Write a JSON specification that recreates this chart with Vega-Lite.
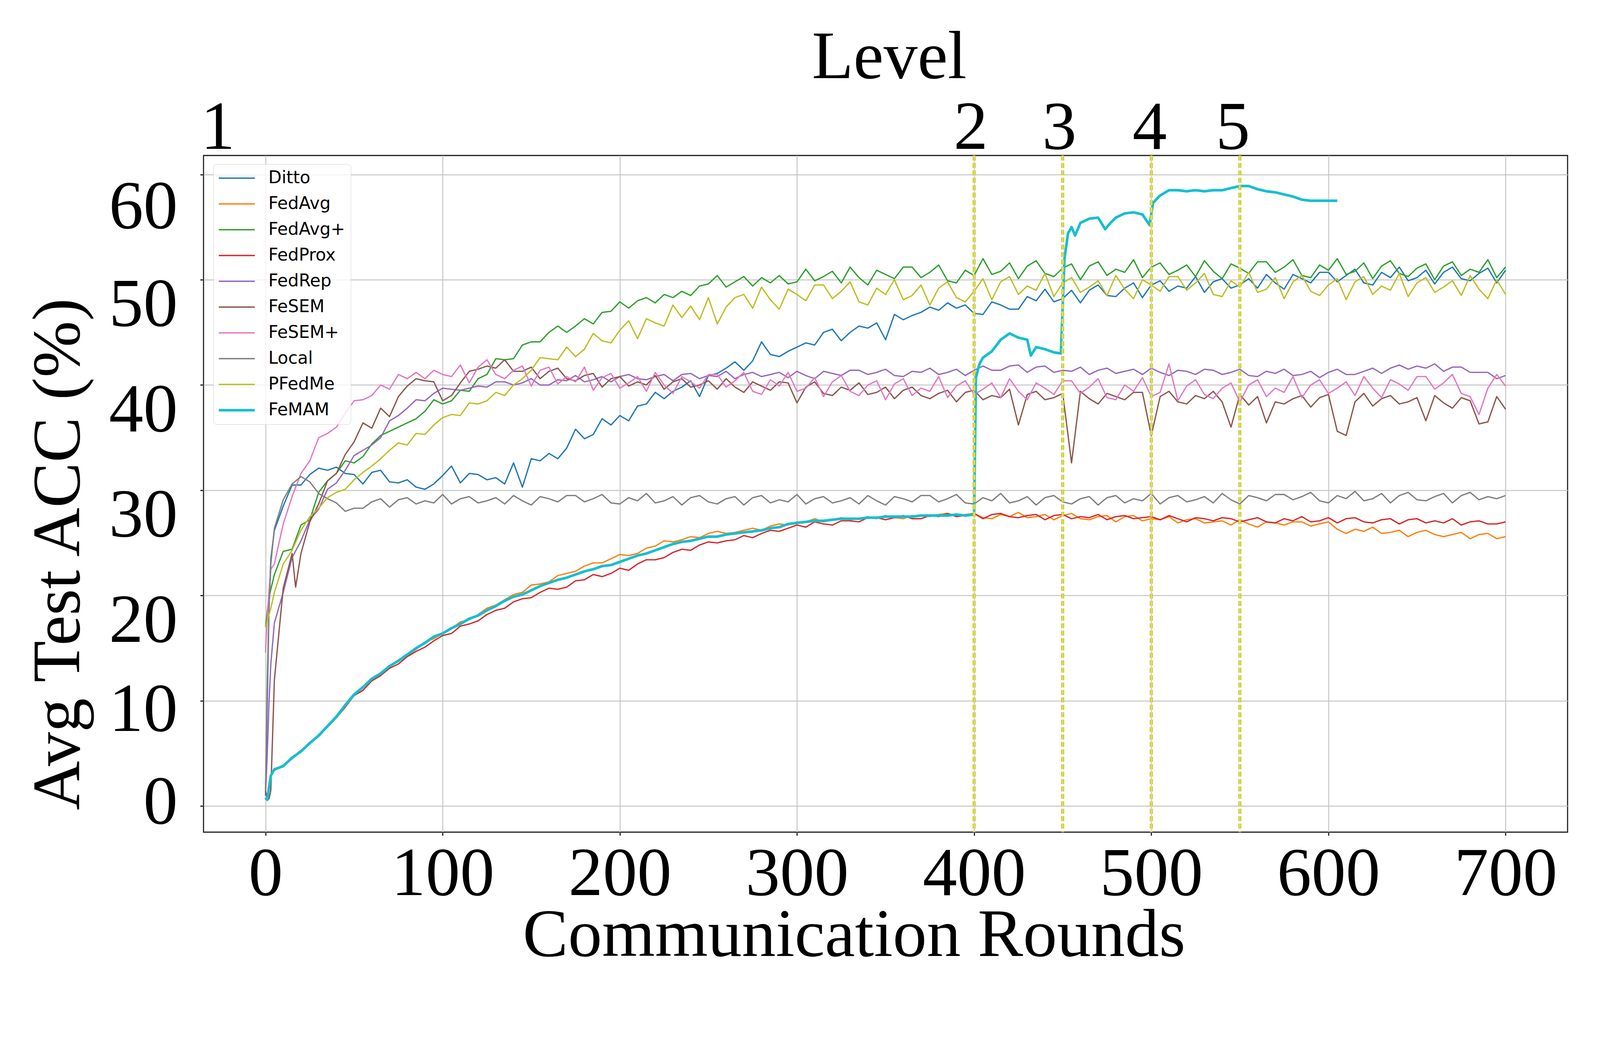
{
  "$schema": "https://vega.github.io/schema/vega-lite/v6.json",
  "width": 3492,
  "height": 1732,
  "autosize": {"type": "none"},
  "padding": {"left": 521, "top": 398, "right": 83, "bottom": 439},
  "background": "#ffffff",
  "config": {
    "view": {"stroke": "#1a1a1a", "strokeWidth": 2.8},
    "axis": {
      "labelFont": "Liberation Serif",
      "titleFont": "Liberation Serif",
      "labelColor": "#000000",
      "titleColor": "#000000",
      "titleFontWeight": "normal",
      "labelLimit": 0,
      "titleLimit": 0,
      "gridColor": "#c4c4c4",
      "gridWidth": 2.4,
      "tickColor": "#1a1a1a",
      "tickWidth": 2.8,
      "tickSize": 8.6,
      "domain": false,
      "labelFlush": false,
      "labelOverlap": false
    }
  },
  "resolve": {"axis": {"x": "independent"}},
  "layer": [
    {
      "data": {
        "values": [
          {"r":0,"a":1.0,"b":0.8,"c":17.0,"d":0.8,"e":1.0,"f":1.5,"g":14.6,"h":1.4,"i":17.0,"j":0.8},
          {"r":1,"a":10.0,"b":0.6,"c":18.5,"d":0.6,"e":5.0,"f":0.6,"g":18.0,"h":12.0,"i":17.6,"j":0.6},
          {"r":2,"a":19.0,"b":1.8,"c":19.8,"d":1.8,"e":10.0,"f":0.7,"g":20.5,"h":19.0,"i":18.2,"j":1.8},
          {"r":3,"a":23.5,"b":2.9,"c":20.6,"d":2.9,"e":13.5,"f":1.5,"g":22.5,"h":23.0,"i":18.8,"j":2.9},
          {"r":5,"a":26.2,"b":3.5,"c":22.0,"d":3.4,"e":17.4,"f":12.0,"g":23.0,"h":26.4,"i":20.3,"j":3.5},
          {"r":10,"a":28.5,"b":3.9,"c":24.2,"d":3.8,"e":20.3,"f":20.7,"g":26.8,"h":29.1,"i":23.0,"j":3.8},
          {"r":15,"a":30.5,"b":4.6,"c":24.4,"d":4.5,"e":23.6,"f":24.0,"g":29.4,"h":30.6,"i":24.3,"j":4.6},
          {"r":17,"f":20.8},
          {"r":20,"a":30.5,"b":5.3,"c":26.7,"d":5.2,"e":25.2,"f":24.0,"g":31.6,"h":31.3,"i":26.2,"j":5.2},
          {"r":25,"a":31.5,"b":6.0,"c":27.2,"d":5.9,"e":27.2,"f":27.0,"g":32.8,"h":30.8,"i":27.5,"j":6.0},
          {"r":30,"a":32.1,"b":6.8,"c":29.8,"d":6.7,"e":28.2,"f":28.7,"g":35.0,"h":29.7,"i":28.3,"j":6.7},
          {"r":35,"a":31.9,"b":7.6,"c":30.9,"d":7.5,"e":30.1,"f":30.9,"g":35.4,"h":29.2,"i":29.3,"j":7.6},
          {"r":40,"a":32.2,"b":8.5,"c":31.6,"d":8.4,"e":30.7,"f":31.6,"g":36.0,"h":28.8,"i":29.8,"j":8.5},
          {"r":45,"a":31.6,"b":9.6,"c":32.8,"d":9.4,"e":31.9,"f":33.4,"g":37.3,"h":28.0,"i":30.1,"j":9.6},
          {"r":50,"a":31.5,"b":10.5,"c":32.6,"d":10.5,"e":33.3,"f":34.6,"g":38.5,"h":28.3,"i":31.0,"j":10.6},
          {"r":55,"a":30.6,"b":11.3,"c":33.2,"d":11.0,"e":33.8,"f":36.4,"g":38.6,"h":28.3,"i":31.7,"j":11.3},
          {"r":60,"a":31.7,"b":12.0,"c":34.4,"d":11.9,"e":34.3,"f":35.9,"g":39.0,"h":28.9,"i":32.3,"j":12.1},
          {"r":65,"a":31.9,"b":12.5,"c":35.2,"d":12.4,"e":35.0,"f":37.8,"g":40.0,"h":29.2,"i":33.0,"j":12.6},
          {"r":70,"a":30.8,"b":13.2,"c":35.6,"d":13.1,"e":36.6,"f":37.0,"g":39.6,"h":28.4,"i":33.8,"j":13.3},
          {"r":75,"a":30.7,"b":13.9,"c":36.0,"d":13.5,"e":37.1,"f":38.9,"g":41.0,"h":29.1,"i":34.5,"j":13.8},
          {"r":80,"a":31.0,"b":14.3,"c":36.4,"d":14.2,"e":37.8,"f":39.9,"g":40.6,"h":29.3,"i":34.3,"j":14.4},
          {"r":85,"a":30.3,"b":14.9,"c":36.8,"d":14.7,"e":38.6,"f":40.6,"g":41.2,"h":28.7,"i":35.4,"j":15.0},
          {"r":90,"a":30.1,"b":15.6,"c":37.5,"d":15.1,"e":38.5,"f":40.4,"g":40.6,"h":29.0,"i":35.3,"j":15.5},
          {"r":95,"a":30.6,"b":15.9,"c":38.6,"d":15.7,"e":39.2,"f":40.3,"g":41.4,"h":28.8,"i":36.2,"j":16.1},
          {"r":100,"a":31.4,"b":16.4,"c":38.2,"d":16.2,"e":39.7,"f":38.5,"g":41.0,"h":29.6,"i":36.9,"j":16.4},
          {"r":105,"a":32.3,"b":16.9,"c":38.5,"d":16.4,"e":39.6,"f":39.0,"g":40.8,"h":28.7,"i":37.2,"j":16.9},
          {"r":110,"a":30.7,"b":17.5,"c":39.5,"d":17.1,"e":39.5,"f":40.2,"g":41.9,"h":29.2,"i":37.1,"j":17.3},
          {"r":115,"a":31.6,"b":17.7,"c":39.4,"d":17.3,"e":39.7,"f":41.3,"g":40.2,"h":29.4,"i":38.3,"j":17.8},
          {"r":120,"a":31.5,"b":18.2,"c":40.6,"d":17.6,"e":39.9,"f":41.5,"g":41.7,"h":28.8,"i":38.2,"j":18.1},
          {"r":125,"a":31.0,"b":18.8,"c":41.0,"d":18.2,"e":39.8,"f":41.8,"g":42.4,"h":29.0,"i":38.5,"j":18.6},
          {"r":130,"a":31.2,"b":19.1,"c":42.5,"d":18.6,"e":40.3,"f":41.6,"g":41.0,"h":29.3,"i":39.3,"j":19.0},
          {"r":135,"a":30.6,"b":19.6,"c":42.4,"d":18.8,"e":40.3,"f":42.4,"g":40.6,"h":28.7,"i":39.0,"j":19.5},
          {"r":140,"a":32.6,"b":20.1,"c":42.5,"d":19.4,"e":40.0,"f":41.3,"g":41.4,"h":29.5,"i":40.0,"j":19.9},
          {"r":145,"a":30.3,"b":20.3,"c":43.8,"d":19.7,"e":40.2,"f":41.3,"g":41.8,"h":29.0,"i":40.6,"j":20.1},
          {"r":150,"a":33.0,"b":21.0,"c":44.1,"d":19.8,"e":40.6,"f":41.7,"g":39.9,"h":28.6,"i":41.4,"j":20.5},
          {"r":155,"a":32.8,"b":21.1,"c":44.1,"d":20.3,"e":40.0,"f":40.6,"g":41.4,"h":29.4,"i":42.6,"j":20.9},
          {"r":160,"a":33.5,"b":21.3,"c":45.0,"d":20.7,"e":40.0,"f":41.3,"g":41.7,"h":29.2,"i":42.5,"j":21.2},
          {"r":165,"a":33.0,"b":21.9,"c":45.6,"d":20.6,"e":40.5,"f":41.6,"g":40.1,"h":28.9,"i":42.4,"j":21.5},
          {"r":170,"a":34.0,"b":22.1,"c":45.0,"d":20.8,"e":40.4,"f":40.6,"g":40.8,"h":29.5,"i":43.6,"j":21.7},
          {"r":175,"a":35.8,"b":22.3,"c":45.6,"d":21.4,"e":40.9,"f":40.4,"g":40.3,"h":29.5,"i":42.7,"j":22.0},
          {"r":180,"a":34.9,"b":22.8,"c":46.3,"d":21.5,"e":40.3,"f":40.9,"g":41.7,"h":28.9,"i":43.4,"j":22.3},
          {"r":185,"a":35.3,"b":23.1,"c":45.8,"d":22.0,"e":40.5,"f":41.1,"g":39.5,"h":29.2,"i":44.9,"j":22.5},
          {"r":190,"a":36.8,"b":23.1,"c":46.9,"d":21.8,"e":40.8,"f":39.8,"g":40.7,"h":29.6,"i":44.2,"j":22.8},
          {"r":195,"a":36.2,"b":23.5,"c":47.0,"d":22.1,"e":40.3,"f":40.6,"g":41.1,"h":28.8,"i":44.0,"j":22.9},
          {"r":200,"a":37.1,"b":23.9,"c":47.9,"d":22.6,"e":40.8,"f":40.8,"g":39.7,"h":28.7,"i":45.2,"j":23.2},
          {"r":205,"a":36.6,"b":23.8,"c":47.3,"d":22.4,"e":41.0,"f":39.9,"g":40.2,"h":29.3,"i":46.1,"j":23.5},
          {"r":210,"a":38.0,"b":24.0,"c":48.0,"d":23.0,"e":40.6,"f":40.3,"g":40.8,"h":29.0,"i":44.4,"j":23.8},
          {"r":215,"a":38.2,"b":24.5,"c":48.3,"d":23.4,"e":40.5,"f":40.0,"g":39.4,"h":29.7,"i":46.3,"j":24.0},
          {"r":220,"a":39.3,"b":24.7,"c":47.8,"d":23.4,"e":40.8,"f":40.9,"g":41.2,"h":28.8,"i":45.9,"j":24.3},
          {"r":225,"a":38.7,"b":25.2,"c":48.6,"d":23.6,"e":41.0,"f":39.6,"g":40.0,"h":29.0,"i":45.6,"j":24.6},
          {"r":230,"a":39.4,"b":25.1,"c":48.3,"d":24.1,"e":40.4,"f":40.3,"g":39.2,"h":29.4,"i":47.6,"j":24.9},
          {"r":235,"a":39.8,"b":25.3,"c":48.9,"d":24.4,"e":41.0,"f":40.6,"g":40.8,"h":28.6,"i":46.4,"j":25.1},
          {"r":240,"a":40.4,"b":25.6,"c":48.5,"d":24.3,"e":41.1,"f":39.8,"g":40.3,"h":29.3,"i":47.5,"j":25.2},
          {"r":245,"a":38.9,"b":25.5,"c":49.4,"d":24.8,"e":40.6,"f":40.0,"g":39.7,"h":29.5,"i":46.2,"j":25.4},
          {"r":250,"a":40.9,"b":25.9,"c":49.6,"d":25.1,"e":40.9,"f":40.4,"g":41.0,"h":28.9,"i":48.3,"j":25.6},
          {"r":255,"a":41.1,"b":26.1,"c":50.4,"d":25.0,"e":40.8,"f":39.6,"g":41.0,"h":28.7,"i":45.8,"j":25.6},
          {"r":260,"a":41.6,"b":25.9,"c":49.3,"d":25.2,"e":41.3,"f":40.6,"g":39.8,"h":29.2,"i":47.4,"j":25.8},
          {"r":265,"a":42.2,"b":26.0,"c":49.8,"d":25.3,"e":40.6,"f":39.8,"g":40.4,"h":29.4,"i":48.3,"j":25.9},
          {"r":270,"a":41.4,"b":26.2,"c":50.3,"d":25.7,"e":41.0,"f":39.3,"g":41.2,"h":28.6,"i":48.6,"j":26.0},
          {"r":275,"a":42.3,"b":26.4,"c":49.4,"d":25.5,"e":41.2,"f":40.3,"g":39.4,"h":29.3,"i":47.3,"j":26.1},
          {"r":280,"a":44.1,"b":26.2,"c":50.2,"d":25.9,"e":40.8,"f":39.9,"g":39.1,"h":29.5,"i":49.3,"j":26.2},
          {"r":285,"a":42.9,"b":26.6,"c":49.7,"d":26.2,"e":41.0,"f":39.5,"g":40.5,"h":28.8,"i":48.1,"j":26.4},
          {"r":290,"a":42.7,"b":26.8,"c":50.4,"d":26.1,"e":41.2,"f":40.3,"g":39.9,"h":29.1,"i":47.2,"j":26.5},
          {"r":295,"a":43.2,"b":26.7,"c":49.6,"d":26.4,"e":40.7,"f":40.2,"g":41.2,"h":28.9,"i":49.1,"j":26.8},
          {"r":300,"a":43.6,"b":27.0,"c":49.8,"d":26.7,"e":41.3,"f":38.3,"g":39.4,"h":29.6,"i":48.6,"j":26.9},
          {"r":305,"a":44.0,"b":27.0,"c":51.0,"d":26.5,"e":40.9,"f":39.8,"g":39.7,"h":28.7,"i":48.0,"j":27.0},
          {"r":310,"a":43.8,"b":27.3,"c":49.9,"d":27.0,"e":40.6,"f":40.3,"g":40.7,"h":29.2,"i":49.5,"j":27.1},
          {"r":315,"a":45.0,"b":27.0,"c":50.3,"d":26.8,"e":41.3,"f":39.2,"g":38.9,"h":29.4,"i":49.5,"j":27.1},
          {"r":320,"a":45.3,"b":27.2,"c":50.8,"d":26.7,"e":41.1,"f":39.0,"g":40.3,"h":28.8,"i":48.2,"j":27.2},
          {"r":325,"a":44.2,"b":27.4,"c":49.7,"d":27.1,"e":40.9,"f":39.8,"g":40.9,"h":29.0,"i":48.9,"j":27.3},
          {"r":330,"a":45.0,"b":27.2,"c":51.2,"d":27.1,"e":41.4,"f":39.5,"g":39.4,"h":29.3,"i":49.8,"j":27.3},
          {"r":335,"a":45.6,"b":27.3,"c":50.2,"d":27.0,"e":41.4,"f":40.2,"g":39.0,"h":28.7,"i":47.9,"j":27.3},
          {"r":340,"a":45.4,"b":27.5,"c":49.5,"d":27.4,"e":41.0,"f":39.1,"g":40.0,"h":29.5,"i":47.6,"j":27.4},
          {"r":345,"a":45.9,"b":27.3,"c":50.9,"d":27.4,"e":41.2,"f":39.3,"g":40.4,"h":29.0,"i":49.2,"j":27.4},
          {"r":350,"a":44.3,"b":27.6,"c":50.5,"d":27.2,"e":41.5,"f":39.8,"g":38.6,"h":28.6,"i":48.6,"j":27.5},
          {"r":355,"a":46.7,"b":27.4,"c":50.1,"d":27.4,"e":40.9,"f":38.7,"g":40.1,"h":29.4,"i":50.0,"j":27.5},
          {"r":360,"a":46.2,"b":27.3,"c":51.2,"d":27.6,"e":40.8,"f":39.5,"g":40.6,"h":29.2,"i":48.1,"j":27.5},
          {"r":365,"a":46.6,"b":27.6,"c":51.2,"d":27.3,"e":41.3,"f":39.8,"g":39.0,"h":28.9,"i":48.5,"j":27.5},
          {"r":370,"a":46.9,"b":27.6,"c":50.2,"d":27.3,"e":41.2,"f":39.0,"g":39.7,"h":29.5,"i":49.5,"j":27.6},
          {"r":375,"a":47.4,"b":27.5,"c":50.7,"d":27.6,"e":41.6,"f":38.7,"g":39.4,"h":29.5,"i":47.6,"j":27.6},
          {"r":380,"a":47.1,"b":27.7,"c":51.4,"d":27.5,"e":41.0,"f":39.2,"g":40.8,"h":28.9,"i":49.2,"j":27.6},
          {"r":385,"a":47.8,"b":27.8,"c":49.9,"d":27.8,"e":41.2,"f":39.5,"g":38.8,"h":29.2,"i":49.8,"j":27.6},
          {"r":390,"a":47.3,"b":27.6,"c":49.7,"d":27.5,"e":41.5,"f":38.4,"g":39.9,"h":29.6,"i":48.3,"j":27.7},
          {"r":395,"a":47.6,"b":27.7,"c":50.9,"d":27.6,"e":40.9,"f":39.3,"g":40.4,"h":28.8,"i":47.9,"j":27.6},
          {"r":400,"a":46.8,"b":27.8,"c":50.4,"d":27.8,"e":41.4,"f":39.5,"g":39.1,"h":28.7,"i":48.9,"j":27.7},
          {"r":401,"j":40.7},
          {"r":403,"j":42.0},
          {"r":405,"a":46.7,"b":27.4,"c":52.0,"d":27.3,"e":41.8,"f":38.6,"g":39.6,"h":29.3,"i":50.1,"j":42.6},
          {"r":410,"a":47.9,"b":27.3,"c":50.5,"d":27.7,"e":41.4,"f":39.0,"g":40.2,"h":29.0,"i":48.1,"j":43.2},
          {"r":415,"a":47.6,"b":27.7,"c":50.8,"d":27.8,"e":41.4,"f":38.8,"g":38.8,"h":29.7,"i":49.8,"j":44.3},
          {"r":420,"a":47.2,"b":27.5,"c":51.6,"d":27.5,"e":41.8,"f":39.6,"g":40.6,"h":28.8,"i":50.3,"j":44.9},
          {"r":425,"a":47.2,"b":27.9,"c":50.1,"d":27.4,"e":41.9,"f":36.2,"g":39.4,"h":29.0,"i":48.6,"j":44.5},
          {"r":430,"a":48.4,"b":27.4,"c":51.3,"d":27.6,"e":41.2,"f":39.1,"g":38.6,"h":29.4,"i":49.4,"j":44.3},
          {"r":432,"j":42.8},
          {"r":435,"a":48.0,"b":27.5,"c":51.8,"d":27.7,"e":41.7,"f":39.4,"g":40.2,"h":28.6,"i":49.0,"j":43.6},
          {"r":440,"a":49.1,"b":27.7,"c":50.6,"d":27.2,"e":41.8,"f":38.6,"g":39.7,"h":29.3,"i":50.6,"j":43.4},
          {"r":445,"a":47.9,"b":27.2,"c":50.3,"d":27.6,"e":41.2,"f":38.8,"g":39.1,"h":29.5,"i":48.4,"j":43.1},
          {"r":449,"j":43.0},
          {"r":450,"a":48.2,"b":27.6,"c":51.1,"d":27.7,"e":41.4,"f":39.2,"g":40.4,"h":28.9,"i":49.7},
          {"r":451,"j":52.0},
          {"r":453,"j":54.4},
          {"r":455,"a":49.0,"b":27.8,"c":51.5,"d":27.3,"e":41.3,"f":32.6,"g":40.4,"h":28.7,"i":50.2,"j":55.0},
          {"r":457,"j":54.2},
          {"r":460,"a":47.8,"b":27.3,"c":50.0,"d":27.5,"e":41.7,"f":39.4,"g":39.2,"h":29.2,"i":48.8,"j":55.4},
          {"r":465,"a":49.0,"b":27.2,"c":51.3,"d":27.4,"e":41.0,"f":38.7,"g":39.8,"h":29.4,"i":49.3,"j":55.8},
          {"r":470,"a":49.5,"b":27.5,"c":51.7,"d":27.7,"e":41.4,"f":38.2,"g":40.6,"h":28.6,"i":49.9,"j":55.9},
          {"r":474,"j":54.8},
          {"r":475,"a":48.5,"b":27.6,"c":50.4,"d":27.2,"e":41.6,"f":39.2,"g":38.8,"h":29.3,"i":48.5},
          {"r":477,"j":55.4},
          {"r":480,"a":48.4,"b":27.0,"c":51.0,"d":27.5,"e":41.1,"f":38.9,"g":38.6,"h":29.5,"i":50.4,"j":55.9},
          {"r":485,"a":49.2,"b":27.5,"c":50.7,"d":27.6,"e":41.3,"f":38.6,"g":40.0,"h":28.8,"i":49.1,"j":56.3},
          {"r":490,"a":49.7,"b":27.6,"c":51.9,"d":27.3,"e":41.5,"f":39.3,"g":39.4,"h":29.2,"i":48.2,"j":56.4},
          {"r":495,"a":48.3,"b":27.1,"c":50.2,"d":27.4,"e":41.0,"f":39.3,"g":40.7,"h":29.0,"i":50.0,"j":56.2},
          {"r":499,"j":55.2},
          {"r":500,"a":49.5,"b":27.3,"c":51.2,"d":27.5,"e":41.6,"f":35.2,"g":38.9,"h":29.7,"i":49.5},
          {"r":501,"j":57.3},
          {"r":505,"a":49.9,"b":27.2,"c":51.6,"d":27.2,"e":41.2,"f":38.9,"g":39.3,"h":28.7,"i":48.9,"j":58.0},
          {"r":510,"a":48.9,"b":27.5,"c":50.5,"d":27.6,"e":40.9,"f":39.4,"g":42.0,"h":29.3,"i":50.3,"j":58.5},
          {"r":515,"a":49.4,"b":26.9,"c":50.9,"d":27.3,"e":41.4,"f":38.4,"g":38.5,"h":29.5,"i":50.3,"j":58.5},
          {"r":520,"a":49.2,"b":27.2,"c":51.4,"d":27.0,"e":41.3,"f":38.2,"g":39.9,"h":28.9,"i":49.0,"j":58.4},
          {"r":525,"a":50.3,"b":27.3,"c":50.3,"d":27.4,"e":41.0,"f":39.0,"g":40.5,"h":29.1,"i":49.7,"j":58.5},
          {"r":530,"a":48.8,"b":26.9,"c":51.8,"d":27.3,"e":41.5,"f":38.7,"g":39.1,"h":29.4,"i":50.6,"j":58.4},
          {"r":535,"a":49.8,"b":27.0,"c":50.8,"d":27.1,"e":41.4,"f":39.4,"g":38.7,"h":28.8,"i":48.6,"j":58.5},
          {"r":540,"a":50.1,"b":27.1,"c":50.1,"d":27.4,"e":41.0,"f":38.4,"g":39.7,"h":29.7,"i":48.4,"j":58.5},
          {"r":545,"a":49.2,"b":26.7,"c":51.5,"d":27.3,"e":41.2,"f":36.0,"g":40.2,"h":29.1,"i":49.9,"j":58.7},
          {"r":550,"a":49.5,"b":27.2,"c":51.1,"d":27.0,"e":41.5,"f":39.1,"g":38.4,"h":28.7,"i":49.3,"j":58.9},
          {"r":555,"a":50.1,"b":26.8,"c":50.6,"d":27.2,"e":40.9,"f":38.1,"g":40.0,"h":29.5,"i":50.7,"j":58.9},
          {"r":560,"a":49.2,"b":26.5,"c":51.7,"d":27.4,"e":40.8,"f":38.9,"g":40.5,"h":29.3,"i":48.8,"j":58.6},
          {"r":565,"a":50.5,"b":27.0,"c":51.7,"d":27.0,"e":41.3,"f":36.4,"g":38.9,"h":29.0,"i":49.1,"j":58.4},
          {"r":570,"a":49.7,"b":26.9,"c":50.7,"d":26.9,"e":41.1,"f":38.4,"g":39.7,"h":29.6,"i":50.2,"j":58.3},
          {"r":575,"a":49.1,"b":26.7,"c":51.2,"d":27.3,"e":41.5,"f":38.2,"g":39.3,"h":29.6,"i":48.2,"j":58.1},
          {"r":580,"a":50.5,"b":27.0,"c":51.9,"d":27.1,"e":40.9,"f":38.7,"g":40.8,"h":29.1,"i":49.8,"j":57.9},
          {"r":585,"a":50.1,"b":27.0,"c":50.4,"d":27.5,"e":41.0,"f":39.0,"g":38.8,"h":29.4,"i":50.4,"j":57.6},
          {"r":590,"a":49.7,"b":26.6,"c":50.2,"d":27.0,"e":41.3,"f":37.9,"g":40.0,"h":29.8,"i":48.9,"j":57.5},
          {"r":595,"a":50.7,"b":26.8,"c":51.4,"d":27.1,"e":40.7,"f":38.8,"g":40.5,"h":29.0,"i":48.5,"j":57.5},
          {"r":600,"a":50.7,"b":27.0,"c":50.9,"d":27.4,"e":41.2,"f":39.1,"g":39.2,"h":28.8,"i":49.5,"j":57.5},
          {"r":605,"a":49.8,"b":26.3,"c":52.0,"d":26.9,"e":41.5,"f":35.6,"g":39.7,"h":29.5,"i":50.1,"j":57.5},
          {"r":610,"a":50.4,"b":25.9,"c":50.5,"d":27.3,"e":41.0,"f":35.2,"g":40.3,"h":29.2,"i":48.1},
          {"r":615,"a":51.0,"b":26.3,"c":50.8,"d":27.4,"e":41.0,"f":38.4,"g":39.0,"h":29.9,"i":49.8},
          {"r":620,"a":49.7,"b":26.1,"c":51.6,"d":27.0,"e":41.3,"f":39.2,"g":40.8,"h":29.0,"i":50.3},
          {"r":625,"a":49.5,"b":26.5,"c":50.1,"d":26.9,"e":41.6,"f":38.0,"g":39.7,"h":29.2,"i":48.6},
          {"r":630,"a":50.7,"b":25.9,"c":51.3,"d":27.2,"e":41.1,"f":38.7,"g":38.8,"h":29.7,"i":49.4},
          {"r":635,"a":50.2,"b":26.0,"c":51.8,"d":27.3,"e":41.6,"f":39.0,"g":40.5,"h":28.8,"i":49.0},
          {"r":640,"a":51.2,"b":26.2,"c":50.6,"d":26.8,"e":41.9,"f":38.2,"g":40.1,"h":29.5,"i":50.6},
          {"r":645,"a":49.9,"b":25.6,"c":50.3,"d":27.2,"e":41.5,"f":38.4,"g":39.5,"h":29.8,"i":48.4},
          {"r":650,"a":50.2,"b":26.0,"c":51.1,"d":27.3,"e":41.8,"f":38.8,"g":40.8,"h":29.1,"i":49.7},
          {"r":655,"a":50.9,"b":26.2,"c":51.5,"d":26.9,"e":41.6,"f":36.6,"g":40.8,"h":29.0,"i":50.2},
          {"r":660,"a":49.6,"b":25.8,"c":50.0,"d":27.1,"e":42.0,"f":39.0,"g":39.6,"h":29.4,"i":48.8},
          {"r":665,"a":50.7,"b":25.6,"c":51.3,"d":26.9,"e":41.3,"f":38.3,"g":40.2,"h":29.7,"i":49.3},
          {"r":670,"a":51.2,"b":25.8,"c":51.7,"d":27.3,"e":41.7,"f":37.8,"g":41.0,"h":28.8,"i":49.9},
          {"r":675,"a":50.1,"b":26.0,"c":50.4,"d":26.7,"e":41.7,"f":38.8,"g":39.2,"h":29.5,"i":48.5},
          {"r":680,"a":49.9,"b":25.4,"c":51.0,"d":27.0,"e":41.2,"f":38.5,"g":38.9,"h":29.8,"i":50.4},
          {"r":685,"a":50.6,"b":25.8,"c":50.7,"d":27.1,"e":41.2,"f":36.3,"g":37.2,"h":29.1,"i":49.1},
          {"r":690,"a":51.1,"b":25.9,"c":51.9,"d":26.8,"e":41.2,"f":36.5,"g":39.7,"h":29.4,"i":48.2},
          {"r":695,"a":49.7,"b":25.4,"c":50.2,"d":26.8,"e":40.6,"f":38.9,"g":41.0,"h":29.2,"i":50.0},
          {"r":700,"a":50.9,"b":25.6,"c":51.2,"d":27.0,"e":40.9,"f":37.7,"g":39.9,"h":29.5,"i":48.6}
        ]
      },
      "transform": [
        {"fold": ["a", "b", "c", "d", "e", "f", "g", "h", "i", "j"], "as": ["k", "v"]},
        {"filter": "isValid(datum.v)"},
        {
          "lookup": "k",
          "from": {
            "data": {
              "values": [
                {"k": "a", "s": "Ditto"},
                {"k": "b", "s": "FedAvg"},
                {"k": "c", "s": "FedAvg+"},
                {"k": "d", "s": "FedProx"},
                {"k": "e", "s": "FedRep"},
                {"k": "f", "s": "FeSEM"},
                {"k": "g", "s": "FeSEM+"},
                {"k": "h", "s": "Local"},
                {"k": "i", "s": "PFedMe"},
                {"k": "j", "s": "FeMAM"}
              ]
            },
            "key": "k",
            "fields": ["s"]
          }
        }
      ],
      "mark": {"type": "line", "strokeJoin": "round"},
      "encoding": {
        "x": {
          "field": "r",
          "type": "quantitative",
          "scale": {"domain": [-35, 735], "nice": false, "zero": false},
          "axis": {
            "orient": "bottom",
            "values": [0, 100, 200, 300, 400, 500, 600, 700],
            "labelFontSize": 176,
            "labelPadding": 13,
            "title": "Communication Rounds",
            "titleFontSize": 174,
            "titleX": 1665,
            "titleY": 316,
            "titleBaseline": "alphabetic",
            "titleAlign": "center"
          }
        },
        "y": {
          "field": "v",
          "type": "quantitative",
          "scale": {"domain": [-2.47, 61.8], "nice": false, "zero": false},
          "axis": {
            "values": [0, 10, 20, 30, 40, 50, 60],
            "labelFontSize": 176,
            "labelPadding": 58,
            "labelOffset": {
              "condition": [
                {"test": "datum.value == 0", "value": -9},
                {"test": "datum.value == 10", "value": 24},
                {"test": "datum.value == 60", "value": 84}
              ],
              "value": 65
            },
            "title": "Avg Test ACC (%)",
            "titleFontSize": 174,
            "titleAngle": 270,
            "titleX": -319,
            "titleY": 1020,
            "titleBaseline": "alphabetic",
            "titleAlign": "center"
          }
        },
        "color": {
          "field": "s",
          "type": "nominal",
          "scale": {
            "domain": ["Ditto", "FedAvg", "FedAvg+", "FedProx", "FedRep", "FeSEM", "FeSEM+", "Local", "PFedMe", "FeMAM"],
            "range": ["#1f77b4", "#ff7f0e", "#2ca02c", "#d62728", "#9467bd", "#8c564b", "#e377c2", "#7f7f7f", "#bcbd22", "#17becf"]
          },
          "legend": {
            "title": null,
            "orient": "none",
            "legendX": 25,
            "legendY": 22,
            "labelFont": "DejaVu Sans",
            "labelFontSize": 44,
            "labelColor": "#000000",
            "labelLimit": 0,
            "symbolType": "M-1.92,0H6.17",
            "symbolSize": 520,
            "symbolStrokeWidth": 3.3,
            "labelOffset": 83,
            "rowPadding": 22,
            "padding": 14,
            "strokeColor": "#d2d2d2",
            "fillColor": "rgba(255,255,255,0.8)",
            "cornerRadius": 9,
            "encode": {
              "symbols": {
                "update": {
                  "strokeWidth": {"signal": "datum.value === 'FeMAM' ? 6.7 : 3.3"}
                }
              }
            }
          }
        },
        "strokeWidth": {
          "condition": {"test": "datum.s === 'FeMAM'", "value": 6.7},
          "value": 3.3
        }
      }
    },
    {
      "data": {"values": [{"lv": 400}, {"lv": 450}, {"lv": 500}, {"lv": 550}]},
      "mark": {"type": "rule", "color": "#c8c81e", "strokeWidth": 7.6, "strokeDash": [13, 6]},
      "encoding": {
        "x": {
          "field": "lv",
          "type": "quantitative",
          "scale": {"domain": [-35, 735], "nice": false, "zero": false},
          "axis": {
            "orient": "top",
            "values": [-27, 398, 448, 499, 546],
            "labelExpr": "datum.value < 0 ? '1' : datum.value < 420 ? '2' : datum.value < 470 ? '3' : datum.value < 520 ? '4' : '5'",
            "ticks": false,
            "tickSize": 0,
            "grid": false,
            "labelFontSize": 176,
            "labelPadding": -19,
            "title": "Level",
            "titleFontSize": 174,
            "titleX": 1755,
            "titleY": -199,
            "titleBaseline": "alphabetic",
            "titleAlign": "center"
          }
        }
      }
    },
    {
      "data": {"values": [{"lv": 400}, {"lv": 450}, {"lv": 500}, {"lv": 550}]},
      "mark": {"type": "rule", "color": "#ececb4", "strokeWidth": 1.9, "strokeDash": [13, 6]},
      "encoding": {
        "x": {
          "field": "lv",
          "type": "quantitative",
          "scale": {"domain": [-35, 735], "nice": false, "zero": false},
          "axis": null
        }
      }
    }
  ]
}
